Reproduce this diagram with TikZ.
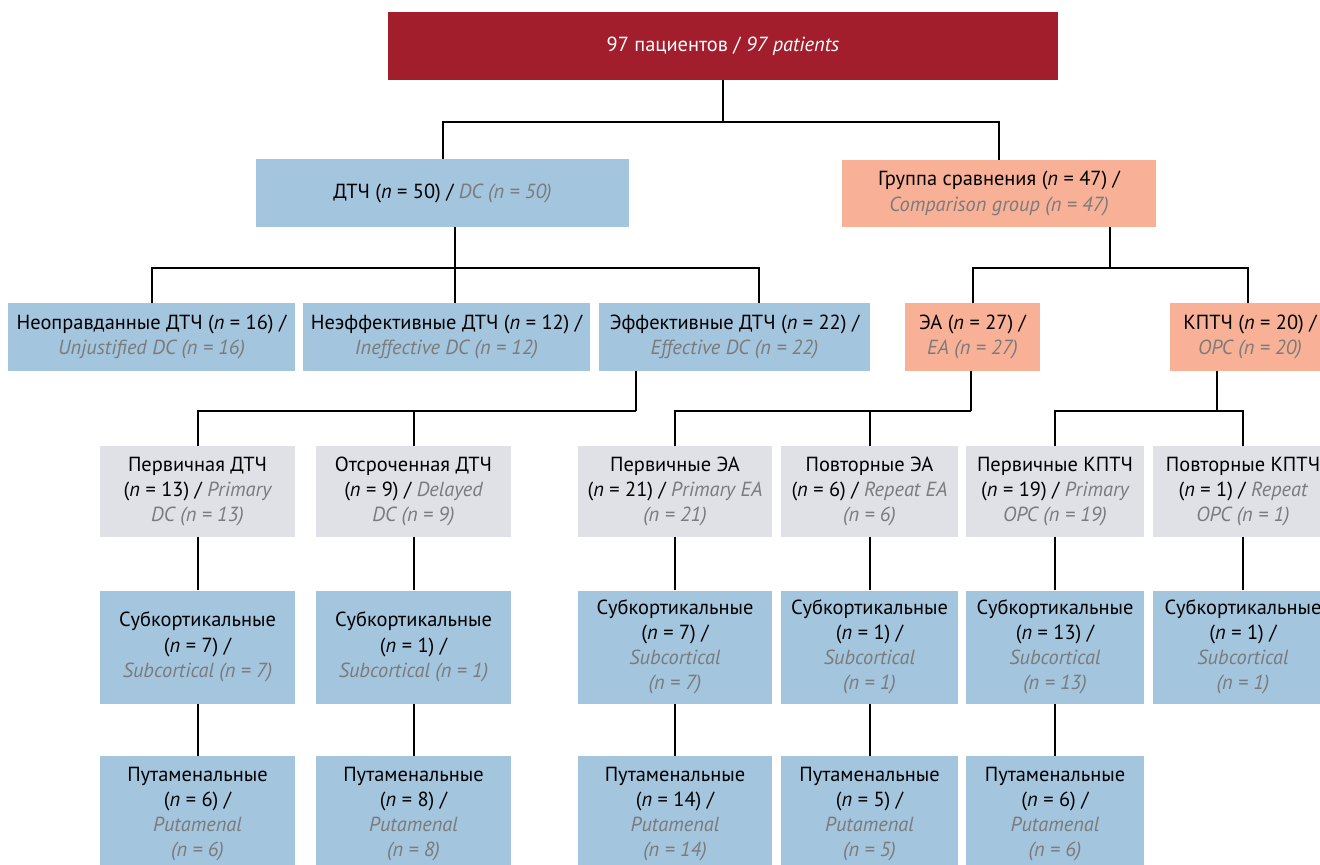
\documentclass[tikz,border=0pt]{standalone}
\usepackage{fontspec}
\setmainfont{PT Sans}
\definecolor{toprd}{HTML}{A31E2C}
\definecolor{dcblue}{HTML}{A3C5DE}
\definecolor{cmpsalmon}{HTML}{F8B197}
\definecolor{subgray}{HTML}{E0E0E7}
\definecolor{engray}{HTML}{7B7B7B}
\newcommand{\nn}{\textit{n}}
\newcommand{\en}[1]{{\color{engray}\itshape #1}}

\begin{document}
\begin{tikzpicture}[x=0.5pt,y=-0.5pt,
  box/.style={inner sep=0pt,align=center,font=\fontsize{10.2}{12.6}\selectfont},
  redbox/.style={box,fill=toprd,text=white},
  bluebox/.style={box,fill=dcblue},
  salmonbox/.style={box,fill=cmpsalmon},
  graybox/.style={box,fill=subgray},
  link/.style={line width=1pt}]
  \useasboundingbox (0,0) rectangle (1320,864);
  \clip (0,0) rectangle (1320,864);

  % top
  \node[redbox,minimum width=335pt,minimum height=34pt] (top) at (723,46)
    {97 пациентов / \textit{97 patients}};

  % groups
  \node[bluebox,minimum width=186.5pt,minimum height=34pt] (dc) at (442.5,193)
    {ДТЧ (\nn{} = 50) / \en{DC (n = 50)}};
  \node[salmonbox,minimum width=157pt,minimum height=33.5pt] (cmp) at (999,193.5)
    {Группа сравнения (\nn{} = 47) /\\ \en{Comparison group (n = 47)}};

  % level 3
  \node[bluebox,minimum width=143.5pt,minimum height=34pt] (unj) at (151.5,337)
    {Неоправданные ДТЧ (\nn{} = 16) /\\ \en{Unjustified DC (n = 16)}};
  \node[bluebox,minimum width=143.5pt,minimum height=34pt] (ineff) at (446.5,337)
    {Неэффективные ДТЧ (\nn{} = 12) /\\ \en{Ineffective DC (n = 12)}};
  \node[bluebox,minimum width=135.5pt,minimum height=34pt] (eff) at (734.5,337)
    {Эффективные ДТЧ (\nn{} = 22) /\\ \en{Effective DC (n = 22)}};
  \node[salmonbox,minimum width=67.5pt,minimum height=34pt] (ea) at (972.5,337)
    {ЭА (\nn{} = 27) /\\ \en{EA (n = 27)}};
  \node[salmonbox,minimum width=80pt,minimum height=34pt] (opc) at (1250,337)
    {КПТЧ (\nn{} = 20) /\\ \en{OPC (n = 20)}};

  % level 4
  \node[graybox,minimum width=97.5pt,minimum height=45.5pt] (pdc) at (197.5,491.5)
    {Первичная ДТЧ\\ (\nn{} = 13) / \en{Primary}\\ \en{DC (n = 13)}};
  \node[graybox,minimum width=97.5pt,minimum height=45.5pt] (ddc) at (413.5,491.5)
    {Отсроченная ДТЧ\\ (\nn{} = 9) / \en{Delayed}\\ \en{DC (n = 9)}};
  \node[graybox,minimum width=97pt,minimum height=45.5pt] (pea) at (675,491.5)
    {Первичные ЭА\\ (\nn{} = 21) / \en{Primary EA}\\ \en{(n = 21)}};
  \node[graybox,minimum width=88.5pt,minimum height=45.5pt] (rea) at (869.5,491.5)
    {Повторные ЭА\\ (\nn{} = 6) / \en{Repeat EA}\\ \en{(n = 6)}};
  \node[graybox,minimum width=89pt,minimum height=45.5pt] (popc) at (1055,491.5)
    {Первичные КПТЧ\\ (\nn{} = 19) / \en{Primary}\\ \en{OPC (n = 19)}};
  \node[graybox,minimum width=90pt,minimum height=45.5pt] (ropc) at (1243,491.5)
    {Повторные КПТЧ\\ (\nn{} = 1) / \en{Repeat}\\ \en{OPC (n = 1)}};

  % level 5
  \node[bluebox,minimum width=97.5pt,minimum height=56.5pt] (pdcs) at (197.5,647)
    {Субкортикальные\\ (\nn{} = 7) /\\ \en{Subcortical (n = 7)}};
  \node[bluebox,minimum width=97.5pt,minimum height=56.5pt] (ddcs) at (413.5,647)
    {Субкортикальные\\ (\nn{} = 1) /\\ \en{Subcortical (n = 1)}};
  \node[bluebox,minimum width=97pt,minimum height=56.5pt] (peas) at (675,647)
    {Субкортикальные\\ (\nn{} = 7) /\\ \en{Subcortical}\\ \en{(n = 7)}};
  \node[bluebox,minimum width=88.5pt,minimum height=56.5pt] (reas) at (869.5,647)
    {Субкортикальные\\ (\nn{} = 1) /\\ \en{Subcortical}\\ \en{(n = 1)}};
  \node[bluebox,minimum width=89pt,minimum height=56.5pt] (popcs) at (1055,647)
    {Субкортикальные\\ (\nn{} = 13) /\\ \en{Subcortical}\\ \en{(n = 13)}};
  \node[bluebox,minimum width=90pt,minimum height=56.5pt] (ropcs) at (1243,647)
    {Субкортикальные\\ (\nn{} = 1) /\\ \en{Subcortical}\\ \en{(n = 1)}};

  % level 6
  \node[bluebox,minimum width=97.5pt,minimum height=58pt] (pdcp) at (197.5,814)
    {Путаменальные\\ (\nn{} = 6) /\\ \en{Putamenal}\\ \en{(n = 6)}};
  \node[bluebox,minimum width=97.5pt,minimum height=58pt] (ddcp) at (413.5,814)
    {Путаменальные\\ (\nn{} = 8) /\\ \en{Putamenal}\\ \en{(n = 8)}};
  \node[bluebox,minimum width=97pt,minimum height=58pt] (peap) at (675,814)
    {Путаменальные\\ (\nn{} = 14) /\\ \en{Putamenal}\\ \en{(n = 14)}};
  \node[bluebox,minimum width=88.5pt,minimum height=58pt] (reap) at (869.5,814)
    {Путаменальные\\ (\nn{} = 5) /\\ \en{Putamenal}\\ \en{(n = 5)}};
  \node[bluebox,minimum width=89pt,minimum height=58pt] (popcp) at (1055,814)
    {Путаменальные\\ (\nn{} = 6) /\\ \en{Putamenal}\\ \en{(n = 6)}};

  % connectors
  \draw[link] (top.south) -- ++(0,42) -| (dc.north);
  \draw[link] (top.south) -- ++(0,42) -| (cmp.north);

  \draw[link] ([xshift=6.25pt]dc.south) -- ++(0,41) coordinate (b1);
  \draw[link] (unj.north) |- (b1) -| ([xshift=12.25pt]eff.north);
  \draw[link] (b1) -- ([xshift=4.25pt]ineff.north);

  \draw[link] ([xshift=55.5pt]cmp.south) -- ++(0,41) coordinate (b2);
  \draw[link] (ea.north) |- (b2) -| ([xshift=-1pt]opc.north);

  \draw[link] ([xshift=-49.25pt]eff.south) -- ++(0,40) coordinate (b3);
  \draw[link] (pdc.north) |- (b3);
  \draw[link] (ddc.north) -- (ddc.north |- b3);

  \draw[link] ([xshift=-1pt]ea.south) -- ++(0,40) coordinate (b4);
  \draw[link] (pea.north) |- (b4);
  \draw[link] (rea.north) -- (rea.north |- b4);

  \draw[link] ([xshift=-16.5pt]opc.south) -- ++(0,40) coordinate (b5);
  \draw[link] (popc.north) |- (b5) -| (ropc.north);

  \foreach \a/\b in {pdc/pdcs,ddc/ddcs,pea/peas,rea/reas,popc/popcs,ropc/ropcs,
                     pdcs/pdcp,ddcs/ddcp,peas/peap,reas/reap,popcs/popcp}
    \draw[link] (\a) -- (\b);
\end{tikzpicture}
\end{document}
